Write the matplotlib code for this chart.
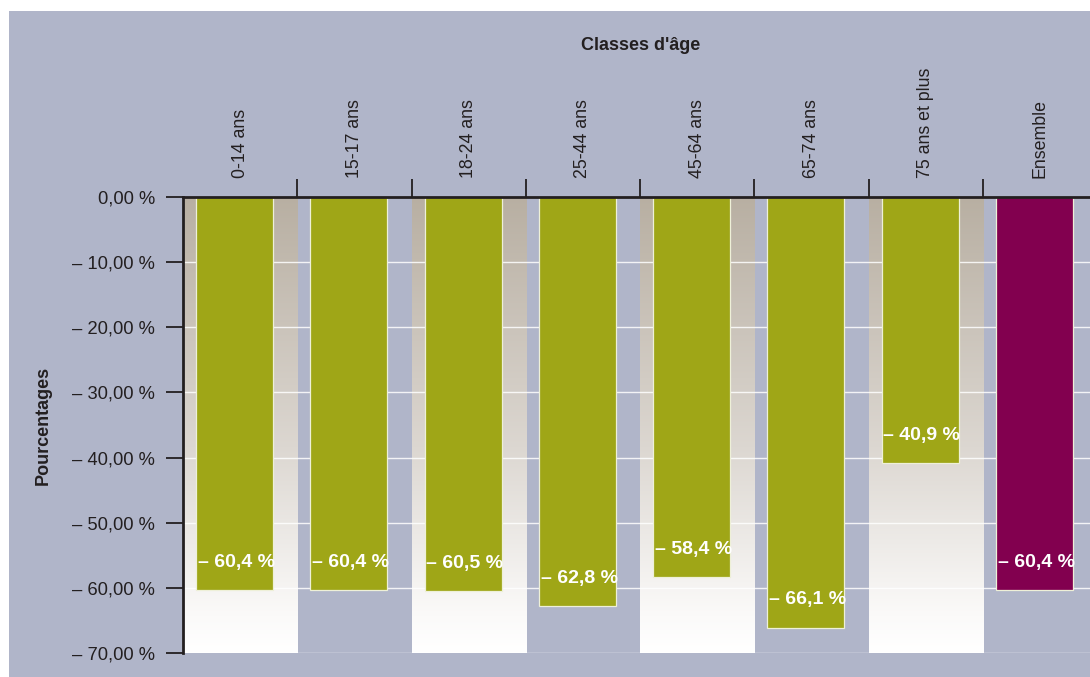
import matplotlib
matplotlib.use("Agg")
import matplotlib.pyplot as plt
import numpy as np
from matplotlib.colors import LinearSegmentedColormap
from matplotlib.patches import Rectangle

plt.rcParams['font.family'] = ['Liberation Sans Narrow', 'Liberation Sans', 'DejaVu Sans']

categories = ["0-14 ans", "15-17 ans", "18-24 ans", "25-44 ans", "45-64 ans",
              "65-74 ans", "75 ans et plus", "Ensemble"]
values = [-60.4, -60.4, -60.5, -62.8, -58.4, -66.1, -40.9, -60.4]
y_ticks = [0, -10, -20, -30, -40, -50, -60, -70]

BG = "#b0b5c9"
OLIVE = "#9fa617"
PLUM = "#82004f"
DARK = "#231f20"

W, H = 1090, 677
fig = plt.figure(figsize=(W / 100, H / 100), dpi=100)
fig.patch.set_facecolor("white")
fig.add_artist(Rectangle((9 / W, 0), 1, 1 - 11 / H, transform=fig.transFigure,
                         facecolor=BG, edgecolor="none", zorder=-10))

left, right, top, bottom = 183, 1097, 197, 653
ax = fig.add_axes([left / W, (H - bottom) / H, (right - left) / W, (bottom - top) / H])
ax.set_facecolor(BG)
ax.set_xlim(-0.5, len(categories) - 0.5)
ax.set_ylim(-70, 0)

# alternating gradient bands behind every other category
grad_cmap = LinearSegmentedColormap.from_list(
    "band", [(0.0, "#ffffff"), (0.08, "#fbfaf9"), (0.45, "#dcd7d1"), (1.0, "#b8afa2")])
grad = np.linspace(0, 1, 256).reshape(-1, 1)
for i in range(0, len(categories), 2):
    ax.imshow(grad, cmap=grad_cmap, aspect="auto", origin="lower",
              extent=(i - 0.5, i + 0.5, -70, 0), zorder=0.5, interpolation="bilinear")

# horizontal grid
for t in y_ticks[1:]:
    ax.axhline(t, color="white", lw=1.0, alpha=0.85, zorder=1)

colors = [OLIVE] * (len(categories) - 1) + [PLUM]
x = np.arange(len(categories))
ax.bar(x - 0.048, values, width=0.675, color=colors, edgecolor="#eef0d8",
       linewidth=0.9, zorder=2)

for xi, v in zip(x, values):
    lbl = "– " + f"{abs(v):.1f}".replace(".", ",") + " %"
    ax.text(xi - 0.048 - 0.3375 + 0.015, v + 4.3, lbl, color="white",
            fontsize=14, fontweight="bold", ha="left", va="center", zorder=3)

# axes styling
for s in ("bottom", "right"):
    ax.spines[s].set_visible(False)
for s in ("top", "left"):
    ax.spines[s].set_color(DARK)
    ax.spines[s].set_linewidth(2.0)
    ax.spines[s].set_zorder(4)

ax.set_yticks(y_ticks)
ax.set_yticklabels(["0,00 %" if t == 0 else "– " + f"{abs(t):.2f}".replace(".", ",") + " %"
                    for t in y_ticks], fontsize=13.2, color=DARK)
ax.tick_params(axis="y", length=12, width=1.3, color=DARK, pad=8)

ax.xaxis.tick_top()
ax.set_xticks(x)
ax.set_xticklabels(categories, rotation=90, fontsize=12.8, color=DARK)
ax.set_xticks(np.arange(0.5, len(categories) - 0.5, 1), minor=True)
ax.tick_params(axis="x", which="major", length=0, pad=14)
ax.tick_params(axis="x", which="minor", length=13, width=1.3, color=DARK, direction="out")

fig.text(641 / W, 1 - 45 / H, "Classes d'âge", ha="center", va="center",
         fontsize=13, fontweight="bold", color=DARK)
fig.text(43 / W, 1 - 425 / H, "Pourcentages", ha="center", va="center", rotation=90,
         fontsize=13, fontweight="bold", color=DARK)

fig.savefig("out.png", dpi=100, facecolor=fig.get_facecolor())
